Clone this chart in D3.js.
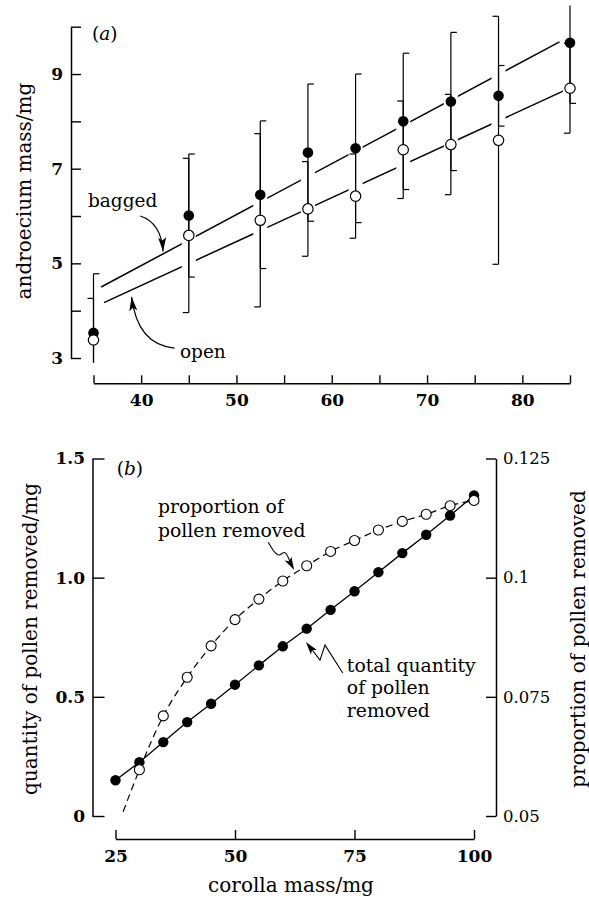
<!DOCTYPE html>
<html><head><meta charset="utf-8">
<script src="https://cdn.jsdelivr.net/npm/d3@7"></script>
<style>
html,body{margin:0;padding:0;background:#fff;}
svg{display:block;}
text{font-family:"DejaVu Serif",serif;fill:#000;}
</style></head>
<body>
<script>
// ---------- Panel (a) data ----------
const aX        = [35, 45, 52.5, 57.5, 62.5, 67.5, 72.5, 77.5, 85];
const bagged    = [3.53, 6.01, 6.45, 7.34, 7.43, 8.00, 8.42, 8.54, 9.66];
const baggedSD  = [1.25, 1.30, 1.56, 1.45, 1.57, 1.44, 1.46, 0.64, 1.28];
const open      = [3.38, 5.59, 5.91, 6.15, 6.42, 7.40, 7.51, 7.60, 8.70];
const openSD    = [0.88, 1.63, 1.83, 1.00, 0.89, 1.03, 1.06, 2.62, 0.95];
const baggedFit = [[35.8, 4.50], [83.9, 9.68]];
const openFit   = [[36.1, 4.17], [84.5, 8.66]];
const aXTicks   = [35, 40, 45, 50, 55, 60, 65, 70, 75, 80, 85];
const aXLabels  = [40, 50, 60, 70, 80];
const aYTicks   = [3, 4, 5, 6, 7, 8, 9, 10];
const aYLabels  = [3, 5, 7, 9];

// ---------- Panel (b) data ----------
const bX          = [25, 30, 35, 40, 45, 50, 55, 60, 65, 70, 75, 80, 85, 90, 95, 100];
const quantity    = [0.150, 0.226, 0.310, 0.394, 0.471, 0.551, 0.632, 0.712, 0.786, 0.865, 0.943, 1.023, 1.103, 1.180, 1.261, 1.345];
const bXOpen      = [30, 35, 40, 45, 50, 55, 60, 65, 70, 75, 80, 85, 90, 95, 100];
const proportion  = [0.0597, 0.0710, 0.0791, 0.0857, 0.0912, 0.0955, 0.0993, 0.1025, 0.1055, 0.1078, 0.1100, 0.1118, 0.1133, 0.1151, 0.1162];
const propCurveStart = [26.6, 0.0509];
const bXTicks     = [25, 50, 75, 100];
const qTicks      = [0, 0.5, 1.0, 1.5];
const qLabels     = ["0", "0.5", "1.0", "1.5"];
const pTicks      = [0.05, 0.075, 0.1, 0.125];
const pLabels     = ["0.05", "0.075", "0.1", "0.125"];

const W = 589, H = 904;
const svg = d3.select("body").append("svg").attr("width", W).attr("height", H);
svg.append("rect").attr("width", W).attr("height", H).attr("fill", "#fff");

// ---------- scales ----------
const xa = d3.scaleLinear([35, 85], [93.5, 570]);
const ya = d3.scaleLinear([3, 10], [358, 26.7]);
const xb = d3.scaleLinear([25, 100], [115.5, 474]);
const yq = d3.scaleLinear([0, 1.5], [816, 458.5]);
const yp = d3.scaleLinear([0.05, 0.125], [816, 458.5]);

function styleAxis(g, bold) {
  g.select(".domain").attr("stroke", "#000").attr("stroke-width", 1.5);
  g.selectAll(".tick line").attr("stroke", "#000").attr("stroke-width", 1.4);
  g.selectAll(".tick text").attr("font-family", "DejaVu Serif").attr("font-size", bold ? 17 : 16.5)
    .attr("font-weight", bold ? "bold" : "normal").attr("fill", "#000");
}

// ---------- Panel (a) axes ----------
const gaY = svg.append("g").attr("transform", "translate(71,0)")
  .call(d3.axisLeft(ya).tickValues(aYTicks).tickSizeInner(-10).tickSizeOuter(0).tickPadding(8)
    .tickFormat(d => aYLabels.includes(d) ? d3.format("d")(d) : ""));
styleAxis(gaY, true);

const gaX = svg.append("g").attr("transform", "translate(0,383.3)")
  .call(d3.axisBottom(xa).tickValues(aXTicks).tickSizeInner(-8).tickSizeOuter(0).tickPadding(10.5)
    .tickFormat(d => aXLabels.includes(d) ? d3.format("d")(d) : ""));
styleAxis(gaX, true);

// ---------- Panel (a) regression lines with gaps at bars ----------
const defs = svg.append("defs");
const mask = defs.append("mask").attr("id", "gaps").attr("maskUnits", "userSpaceOnUse")
  .attr("x", 0).attr("y", 0).attr("width", W).attr("height", H);
mask.append("rect").attr("width", W).attr("height", H).attr("fill", "#fff");
mask.selectAll("rect.g").data(aX).join("rect").attr("class", "g")
  .attr("x", d => xa(d) - 7).attr("width", 14).attr("y", 0).attr("height", 400).attr("fill", "#000");

const lineA = d3.line().x(d => xa(d[0])).y(d => ya(d[1]));
svg.append("g").attr("mask", "url(#gaps)")
  .selectAll("path").data([baggedFit, openFit]).join("path")
  .attr("d", lineA).attr("fill", "none").attr("stroke", "#000").attr("stroke-width", 1.5);

// ---------- Panel (a) error bars ----------
const clipLo = 2.9, clipHi = 10.45, capW = 6;
const eb = svg.append("g").attr("stroke", "#000").attr("stroke-width", 1.2).attr("fill", "none");
[{v: bagged, sd: baggedSD, dir: 1}, {v: open, sd: openSD, dir: -1}].forEach(s => {
  aX.forEach((x, i) => {
    const lo = s.v[i] - s.sd[i], hi = s.v[i] + s.sd[i];
    const px = xa(x);
    eb.append("line").attr("x1", px).attr("x2", px)
      .attr("y1", ya(Math.max(lo, clipLo))).attr("y2", ya(Math.min(hi, clipHi)));
    [lo, hi].forEach(e => {
      if (e >= clipLo && e <= clipHi)
        eb.append("line").attr("x1", px).attr("x2", px + s.dir * capW)
          .attr("y1", ya(e)).attr("y2", ya(e));
    });
  });
});

// markers
svg.append("g").selectAll("circle").data(aX).join("circle")
  .attr("cx", d => xa(d)).attr("cy", (d, i) => ya(bagged[i])).attr("r", 5.3).attr("fill", "#000");
svg.append("g").selectAll("circle").data(aX).join("circle")
  .attr("cx", d => xa(d)).attr("cy", (d, i) => ya(open[i])).attr("r", 5.2)
  .attr("fill", "#fff").attr("stroke", "#000").attr("stroke-width", 1.2);

// ---------- Panel (a) annotations ----------
function arrowHead(g, tip, from, len, hw) {
  const dx = tip[0] - from[0], dy = tip[1] - from[1];
  const L = Math.hypot(dx, dy), ux = dx / L, uy = dy / L;
  const bx = tip[0] - ux * len, by = tip[1] - uy * len;
  g.append("path").attr("d",
    `M${tip[0]},${tip[1]}L${bx - uy * hw},${by + ux * hw}L${bx + ux * 3},${by + uy * 3}L${bx + uy * hw},${by - ux * hw}Z`)
    .attr("fill", "#000").attr("stroke", "none");
}
const ann = svg.append("g");
function label(g, txt, x, y, size, style) {
  return g.append("text").attr("x", x).attr("y", y).attr("font-size", size)
    .attr("font-style", style || "normal").text(txt);
}
// (a)
const ta = ann.append("text").attr("x", xa(34.84)).attr("y", ya(9.72)).attr("font-size", 18.5);
ta.append("tspan").text("(");
ta.append("tspan").attr("font-style", "italic").text("a");
ta.append("tspan").text(")");
label(ann, "bagged", xa(34.42), ya(6.19), 18.5);
label(ann, "open", xa(44.07), ya(3.0), 18.5);

// bagged arrow (curve)
const bagArrow = [[39.9, 6.00], [42.1, 5.86], [42.3, 5.25]];
const bp = bagArrow.map(d => [xa(d[0]), ya(d[1])]);
ann.append("path").attr("d", `M${bp[0]}Q${bp[1]} ${bp[2]}`).attr("fill", "none").attr("stroke", "#000").attr("stroke-width", 1.2);
arrowHead(ann, bp[2], bp[1], 14, 4);
// open arrow
const openArrow = [[43.5, 3.21], [39.6, 3.28], [39.0, 4.29]];
const op = openArrow.map(d => [xa(d[0]), ya(d[1])]);
ann.append("path").attr("d", `M${op[0]}Q${op[1]} ${op[2]}`).attr("fill", "none").attr("stroke", "#000").attr("stroke-width", 1.2);
arrowHead(ann, op[2], op[1], 14, 4);

// axis title (a)
svg.append("text").attr("transform", "translate(31,191) rotate(-90)").attr("text-anchor", "middle")
  .attr("font-size", 20).text("androecium mass/mg");

// ---------- Panel (b) axes ----------
const gbL = svg.append("g").attr("transform", "translate(92.5,0)")
  .call(d3.axisLeft(yq).tickValues(qTicks).tickSizeInner(-12).tickSizeOuter(0).tickPadding(7.5)
    .tickFormat((d, i) => qLabels[i]));
styleAxis(gbL, true);
const gbR = svg.append("g").attr("transform", "translate(496,0)")
  .call(d3.axisRight(yp).tickValues(pTicks).tickSizeInner(-10).tickSizeOuter(0).tickPadding(7)
    .tickFormat((d, i) => pLabels[i]));
styleAxis(gbR, false);
const gbX = svg.append("g").attr("transform", "translate(0,839)")
  .call(d3.axisBottom(xb).tickValues(bXTicks).tickSizeInner(-9).tickSizeOuter(0).tickPadding(10.5)
    .tickFormat(d3.format("d")));
styleAxis(gbX, true);

// ---------- Panel (b) lines ----------
const propPts = [propCurveStart].concat(bXOpen.map((x, i) => [x, proportion[i]]));
svg.append("path").datum(propPts)
  .attr("d", d3.line().curve(d3.curveMonotoneX).x(d => xb(d[0])).y(d => yp(d[1])))
  .attr("fill", "none").attr("stroke", "#000").attr("stroke-width", 1.2).attr("stroke-dasharray", "7,4.5");
svg.append("path").datum(bX.map((x, i) => [x, quantity[i]]))
  .attr("d", d3.line().x(d => xb(d[0])).y(d => yq(d[1])))
  .attr("fill", "none").attr("stroke", "#000").attr("stroke-width", 1.3);

svg.append("g").selectAll("circle").data(bX).join("circle")
  .attr("cx", d => xb(d)).attr("cy", (d, i) => yq(quantity[i])).attr("r", 5.2).attr("fill", "#000");
svg.append("g").selectAll("circle").data(bXOpen).join("circle")
  .attr("cx", d => xb(d)).attr("cy", (d, i) => yp(proportion[i])).attr("r", 5)
  .attr("fill", "#fff").attr("stroke", "#000").attr("stroke-width", 1.1);

// ---------- Panel (b) annotations ----------
const tb = ann.append("text").attr("x", xb(25.25)).attr("y", yq(1.43)).attr("font-size", 18.5);
tb.append("tspan").text("(");
tb.append("tspan").attr("font-style", "italic").text("b");
tb.append("tspan").text(")");

const propLabelX = 33.9, qLabelX = 73.4;
label(ann, "proportion of", xb(propLabelX), yq(1.2713), 18.8);
label(ann, "pollen removed", xb(propLabelX), yq(1.1706), 18.8);
label(ann, "total quantity", xb(qLabelX), yq(0.6055), 18.8);
label(ann, "of pollen", xb(qLabelX), yq(0.512), 18.8);
label(ann, "removed", xb(qLabelX), yq(0.4174), 18.8);

const propArrow = [[56.95, 1.149], [59.05, 1.095], [60.42, 1.105], [62.38, 1.032]];
const pa = propArrow.map(d => [xb(d[0]), yq(d[1])]);
ann.append("path").attr("d", d3.line().curve(d3.curveCatmullRom)(pa.slice(0, 3).concat([[pa[3][0] - 3, pa[3][1] - 5]])))
  .attr("fill", "none").attr("stroke", "#000").attr("stroke-width", 1.1);
arrowHead(ann, pa[3], pa[2], 13, 3.8);

const qArrow = [[72.55, 0.600], [68.83, 0.717], [67.78, 0.654], [64.84, 0.730]];
const qa = qArrow.map(d => [xb(d[0]), yq(d[1])]);
ann.append("path").attr("d", d3.line()(qa.slice(0, 3).concat([[qa[3][0] + 4, qa[3][1] + 5]])))
  .attr("fill", "none").attr("stroke", "#000").attr("stroke-width", 1.1);
arrowHead(ann, qa[3], qa[2], 13, 3.8);

// axis titles (b)
svg.append("text").attr("transform", "translate(37,639) rotate(-90)").attr("text-anchor", "middle")
  .attr("font-size", 20).text("quantity of pollen removed/mg");
svg.append("text").attr("transform", "translate(585,639) rotate(-90)").attr("text-anchor", "middle")
  .attr("font-size", 20).text("proportion of pollen removed");
svg.append("text").attr("x", 291).attr("y", 891.7).attr("text-anchor", "middle")
  .attr("font-size", 20).text("corolla mass/mg");
</script>
</body></html>
